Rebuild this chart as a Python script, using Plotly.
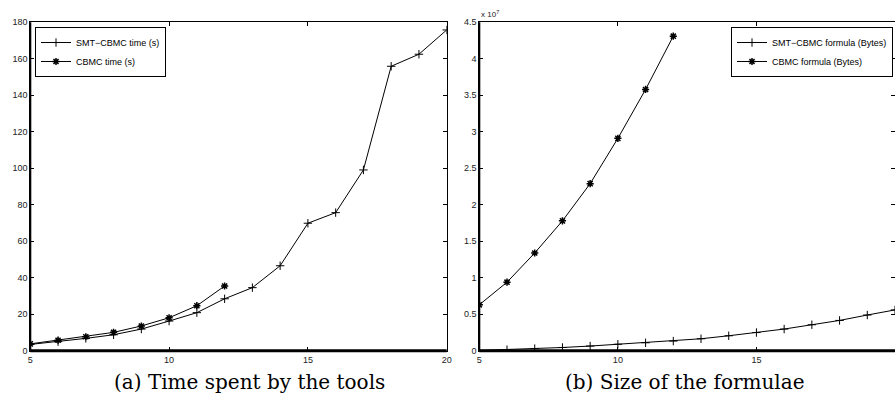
import plotly.graph_objects as go

# ---- data ----
n_values = [5, 6, 7, 8, 9, 10, 11, 12, 13, 14, 15, 16, 17, 18, 19, 20]
n_values_cbmc = [5, 6, 7, 8, 9, 10, 11, 12]

smt_time = [3.5, 5.0, 6.8, 8.8, 11.9, 16.3, 20.9, 28.5, 34.6, 46.6, 69.9, 75.7, 99.1, 155.9, 162.5, 175.8]
cbmc_time = [3.8, 5.8, 7.7, 10.1, 13.6, 18.1, 24.7, 35.5]

smt_bytes = [0.05e6, 0.15e6, 0.3e6, 0.45e6, 0.65e6, 0.9e6, 1.1e6, 1.33e6,
             1.65e6, 2.06e6, 2.5e6, 2.98e6, 3.57e6, 4.16e6, 4.9e6, 5.6e6]
cbmc_bytes = [6.3e6, 9.4e6, 13.4e6, 17.8e6, 22.9e6, 29.1e6, 35.8e6, 43.1e6]

x_ticks = [5, 10, 15, 20]
time_ticks = [0, 20, 40, 60, 80, 100, 120, 140, 160, 180]
bytes_ticks = [0, 5e6, 10e6, 15e6, 20e6, 25e6, 30e6, 35e6, 40e6, 45e6]
bytes_ticktext = ["0", "0.5", "1", "1.5", "2", "2.5", "3", "3.5", "4", "4.5"]

W, H = 895, 399
FONT = "Liberation Sans, Arial, Helvetica, sans-serif"
TICKCOL = "#222222"

fig = go.Figure()

line_style = dict(color="black", width=1)
plus_marker = dict(symbol="cross-thin-open", size=6, color="black", line=dict(color="black", width=1))
star_marker = dict(symbol="asterisk-open", size=6, color="black", line=dict(color="black", width=1.5))

fig.add_trace(go.Scatter(x=n_values, y=smt_time, mode="lines+markers", name="SMT−CBMC time (s)",
                         line=line_style, marker=plus_marker, xaxis="x", yaxis="y", legend="legend"))
fig.add_trace(go.Scatter(x=n_values_cbmc, y=cbmc_time, mode="lines+markers", name="CBMC time (s)",
                         line=line_style, marker=star_marker, xaxis="x", yaxis="y", legend="legend"))
fig.add_trace(go.Scatter(x=n_values, y=smt_bytes, mode="lines+markers", name="SMT−CBMC formula (Bytes)",
                         line=line_style, marker=plus_marker, xaxis="x2", yaxis="y2", legend="legend2"))
fig.add_trace(go.Scatter(x=n_values_cbmc, y=cbmc_bytes, mode="lines+markers", name="CBMC formula (Bytes)",
                         line=line_style, marker=star_marker, xaxis="x2", yaxis="y2", legend="legend2"))

y_dom = [1 - 350.8 / H, 1 - 22.3 / H]
x1_dom = [30.3 / W, 446.7 / W]
x2_dom = [479.3 / W, 1.0]

axis_common = dict(
    showline=True, linecolor="black", linewidth=1, mirror="ticks",
    ticks="inside", ticklen=4, tickwidth=1, tickcolor="black",
    showgrid=False, zeroline=False, automargin=False,
    tickfont=dict(family=FONT, size=9, color=TICKCOL),
)

legend_common = dict(
    yanchor="top", bgcolor="white", bordercolor="black", borderwidth=1,
    font=dict(family=FONT, size=9, color="black"), itemwidth=30, tracegroupgap=0,
)

fig.update_layout(
    width=W, height=H, autosize=False,
    margin=dict(l=0, r=0, t=0, b=0, pad=0, autoexpand=False),
    paper_bgcolor="white", plot_bgcolor="white",
    xaxis=dict(domain=x1_dom, range=[5, 20], tickvals=x_ticks, anchor="y", **axis_common),
    yaxis=dict(domain=y_dom, range=[0, 180], tickvals=time_ticks, anchor="x", **axis_common),
    xaxis2=dict(domain=x2_dom, range=[5, 20], tickvals=x_ticks, anchor="y2", **axis_common),
    yaxis2=dict(domain=y_dom, range=[0, 4.5e7], tickvals=bytes_ticks, ticktext=bytes_ticktext,
                anchor="x2", **axis_common),
    legend=dict(x=35 / W, y=1 - 27 / H, xanchor="left", **legend_common),
    legend2=dict(x=893 / W, y=1 - 27 / H, xanchor="right", **legend_common),
    showlegend=True,
)

# thick bottom and left axis lines
for xr, yr in [("x domain", "y domain"), ("x2 domain", "y2 domain")]:
    fig.add_shape(type="line", xref=xr, yref=yr, x0=0, x1=1, y0=0, y1=0,
                  line=dict(color="black", width=3))
    fig.add_shape(type="line", xref=xr, yref=yr, x0=0, x1=0, y0=0, y1=1,
                  line=dict(color="black", width=2))

# exponent label
fig.add_annotation(text="x 10<sup>7</sup>", xref="paper", yref="paper",
                   x=479 / W, y=1 - 14 / H, xanchor="left", yanchor="middle",
                   showarrow=False, font=dict(family=FONT, size=8, color=TICKCOL))

# captions
CAP_FONT = dict(family="DejaVu Serif, Liberation Serif, serif", size=20, color="black")
fig.add_annotation(text="(a) Time spent by the tools", xref="paper", yref="paper",
                   x=250 / W, y=1 - 382 / H, xanchor="center", yanchor="middle",
                   showarrow=False, font=CAP_FONT)
fig.add_annotation(text="(b) Size of the formulae", xref="paper", yref="paper",
                   x=684.5 / W, y=1 - 382 / H, xanchor="center", yanchor="middle",
                   showarrow=False, font=CAP_FONT)

fig.write_html(
    "out.html",
    config={"displayModeBar": False},
    post_script="document.body.style.margin='0';",
)
